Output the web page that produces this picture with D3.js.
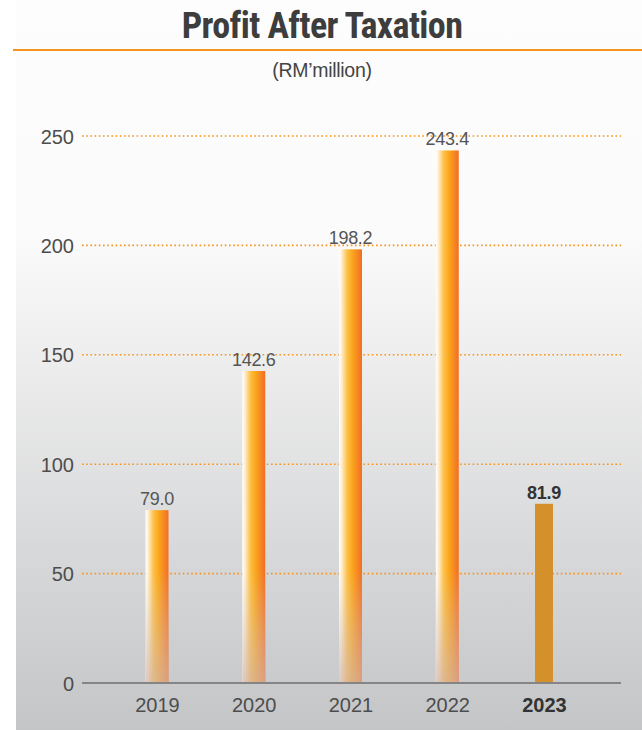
<!DOCTYPE html>
<html>
<head>
<meta charset="utf-8">
<script src="https://cdn.jsdelivr.net/npm/d3@7"></script>
<style>
  html, body { margin: 0; padding: 0; background: #fff; }
  svg { display: block; }
</style>
</head>
<body>
<svg id="chart" width="642" height="730"></svg>
<script>
// Profit after taxation, RM'million
const years = ["2019", "2020", "2021", "2022", "2023"];
const profit = [79.0, 142.6, 198.2, 243.4, 81.9];
const valueLabels = ["79.0", "142.6", "198.2", "243.4", "81.9"];
const yTicks = [0, 50, 100, 150, 200, 250];
const highlightYear = "2023";

const W = 642, H = 730;
const svg = d3.select("#chart");
const defs = svg.append("defs");

// Panel background: near-white top fading to light grey
const bg = defs.append("linearGradient").attr("id", "bgGrad")
  .attr("gradientUnits", "userSpaceOnUse")
  .attr("x1", 0).attr("y1", 0).attr("x2", 0).attr("y2", H);
bg.append("stop").attr("offset", 0).attr("stop-color", "#fdfdfd");
bg.append("stop").attr("offset", 0.32).attr("stop-color", "#fbfbfb");
bg.append("stop").attr("offset", 1).attr("stop-color", "#c4c5c7");

// Bar body: white highlight on the left through amber to orange
const barH = defs.append("linearGradient").attr("id", "barGrad")
  .attr("x1", 0).attr("y1", 0).attr("x2", 1).attr("y2", 0);
barH.append("stop").attr("offset", 0).attr("stop-color", "#ffffff");
barH.append("stop").attr("offset", 0.1).attr("stop-color", "#fff1d6");
barH.append("stop").attr("offset", 0.35).attr("stop-color", "#fdc04a");
barH.append("stop").attr("offset", 0.55).attr("stop-color", "#fbaa1e");
barH.append("stop").attr("offset", 1).attr("stop-color", "#f26d24");

// Soft fade toward the baseline
const fade = defs.append("linearGradient").attr("id", "fadeGrad")
  .attr("gradientUnits", "userSpaceOnUse")
  .attr("x1", 0).attr("y1", 570).attr("x2", 0).attr("y2", 683);
fade.append("stop").attr("offset", 0).attr("stop-color", "#d6c8c4").attr("stop-opacity", 0);
fade.append("stop").attr("offset", 1).attr("stop-color", "#d0b4aa").attr("stop-opacity", 0.7);

svg.append("rect").attr("x", 16).attr("y", 0).attr("width", W - 16).attr("height", H)
  .attr("fill", "url(#bgGrad)");

// Title and rule
svg.append("text").attr("x", 322).attr("y", 38).attr("text-anchor", "middle")
  .attr("font-family", "'Liberation Sans Narrow', 'Roboto Condensed', 'Arial Narrow', sans-serif")
  .attr("font-stretch", "condensed")
  .attr("font-weight", "bold").attr("font-size", 36).attr("fill", "#3d3d3d")
  .attr("letter-spacing", -0.6)
  .text("Profit After Taxation");
svg.append("line").attr("x1", 13).attr("x2", W).attr("y1", 50).attr("y2", 50)
  .attr("stroke", "#f7941d").attr("stroke-width", 2.2);
svg.append("text").attr("x", 322).attr("y", 77).attr("text-anchor", "middle")
  .attr("font-family", "'Liberation Sans', Arial, sans-serif")
  .attr("font-size", 19.5).attr("fill", "#444").attr("letter-spacing", -0.3)
  .text("(RM\u2019million)");

// Scales
const y = d3.scaleLinear().domain([0, 250]).range([683, 136]);
const x = d3.scalePoint().domain(years).range([157, 544]);
const axisLeft = 82, axisRight = 621;

// Dotted gridlines with value ticks
const yAxis = d3.axisLeft(y).tickValues(yTicks).tickSize(0).tickPadding(8)
  .tickFormat(d3.format("d"));
const gy = svg.append("g").attr("transform", `translate(${axisLeft},0)`).call(yAxis);
gy.select(".domain").remove();
gy.selectAll("text")
  .attr("font-family", "'Liberation Sans', Arial, sans-serif")
  .attr("font-size", 20).attr("fill", "#4d4d4d").attr("dy", "0.35em");

svg.append("g").selectAll("line")
  .data(yTicks.filter(d => d > 0)).join("line")
  .attr("x1", axisLeft).attr("x2", axisRight)
  .attr("y1", d => y(d)).attr("y2", d => y(d))
  .attr("stroke", "#f7941d").attr("stroke-width", 1.6)
  .attr("stroke-dasharray", "1.6,2.6");

// Bars
const barW = d => d === highlightYear ? 18 : 23;
const data = years.map((yr, i) => ({ yr, v: profit[i], label: valueLabels[i] }));
const bars = svg.append("g");
bars.selectAll("rect.body").data(data).join("rect").attr("class", "body")
  .attr("x", d => x(d.yr) - barW(d.yr) / 2)
  .attr("width", d => barW(d.yr))
  .attr("y", d => y(d.v))
  .attr("height", d => y(0) - y(d.v))
  .attr("fill", d => d.yr === highlightYear ? "#d4912b" : "url(#barGrad)");
bars.selectAll("rect.fade").data(data.filter(d => d.yr !== highlightYear)).join("rect").attr("class", "fade")
  .attr("x", d => x(d.yr) - barW(d.yr) / 2)
  .attr("width", d => barW(d.yr))
  .attr("y", d => y(d.v))
  .attr("height", d => y(0) - y(d.v))
  .attr("fill", "url(#fadeGrad)");

// Value labels
svg.append("g").selectAll("text").data(data).join("text")
  .attr("x", d => x(d.yr))
  .attr("y", d => y(d.v) - 5)
  .attr("text-anchor", "middle")
  .attr("font-family", "'Liberation Sans', Arial, sans-serif")
  .attr("font-size", 18)
  .attr("letter-spacing", -0.3)
  .attr("font-weight", d => d.yr === highlightYear ? "bold" : "normal")
  .attr("fill", d => d.yr === highlightYear ? "#333" : "#555")
  .text(d => d.label);

// Baseline
svg.append("line").attr("x1", axisLeft).attr("x2", axisRight)
  .attr("y1", y(0)).attr("y2", y(0))
  .attr("stroke", "#858585").attr("stroke-width", 2.2);

// Year labels
const xAxis = d3.axisBottom(x).tickSize(0).tickPadding(0);
const gx = svg.append("g").attr("transform", `translate(0,712)`).call(xAxis);
gx.select(".domain").remove();
gx.selectAll("text")
  .attr("dy", 0)
  .attr("font-family", "'Liberation Sans', Arial, sans-serif")
  .attr("font-size", 20)
  .attr("font-weight", d => d === highlightYear ? "bold" : "normal")
  .attr("fill", d => d === highlightYear ? "#333" : "#4d4d4d");
</script>
</body>
</html>
